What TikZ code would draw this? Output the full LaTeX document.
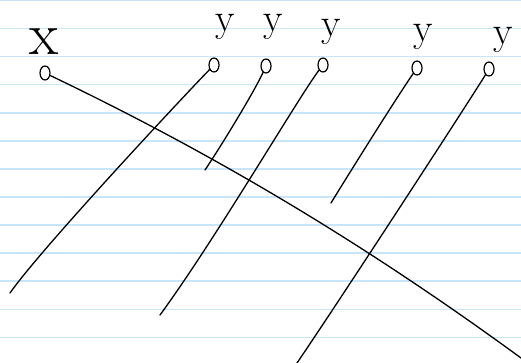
\documentclass[tikz,border=0pt]{standalone}
\usetikzlibrary{shapes.geometric}
\definecolor{ruleblue}{RGB}{200,229,250}
\begin{document}
\begin{tikzpicture}[x=1pt,y=-1pt,
  ink/.style={line width=1.3pt, line cap=round, line join=round},
  loopnode/.style={draw, ellipse, line width=1.2pt, minimum width=10pt, minimum height=14pt, inner sep=0pt},
  lblx/.style={font=\fontsize{60}{60}\selectfont, inner sep=0pt},
  lbly/.style={font=\fontsize{40}{40}\selectfont, inner sep=0pt},
  rulel/.style={draw=ruleblue, line width=1.7pt}]
\fill[white] (0,0) rectangle (521,363);
\useasboundingbox (0,0) rectangle (521,363);
\foreach \k in {0,...,12} \draw[rulel] (0,0.3+28.1*\k) -- (521,0.3+28.1*\k);
% labels
\node[lblx] (lx) at (44,42) {x};
\node[lbly] (ly1) at (225,27) {y};
\node[lbly] (ly2) at (273,27) {y};
\node[lbly] (ly3) at (331,32) {y};
\node[lbly] (ly4) at (423,37) {y};
\node[lbly] (ly5) at (503,40) {y};
% loops
\node[loopnode] (nx) at (45,73) {};
\node[loopnode] (n1) at (214,65) {};
\node[loopnode] (n2) at (266,66) {};
\node[loopnode] (n3) at (323,65) {};
\node[loopnode] (n4) at (417,68) {};
\node[loopnode] (n5) at (489,69) {};
% free ends
\coordinate (ex) at (521,358);
\coordinate (e1) at (10,293);
\coordinate (e2) at (205,170);
\coordinate (e3) at (160,315);
\coordinate (e4) at (331,203);
\coordinate (e5) at (297,363);
% connectors
\draw[ink] (nx) .. controls (210,152) and (361,241) .. (ex);
\draw[ink] (n1) .. controls (180,100) and (40,250) .. (e1);
\draw[ink] (n2) .. controls (255,90) and (225,140) .. (e2);
\draw[ink] (n3) .. controls (300,95) and (215,240) .. (e3);
\draw[ink] (n4) .. controls (395,100) and (350,172) .. (e4);
\draw[ink] (n5) .. controls (470,100) and (340,300) .. (e5);
\end{tikzpicture}
\end{document}
